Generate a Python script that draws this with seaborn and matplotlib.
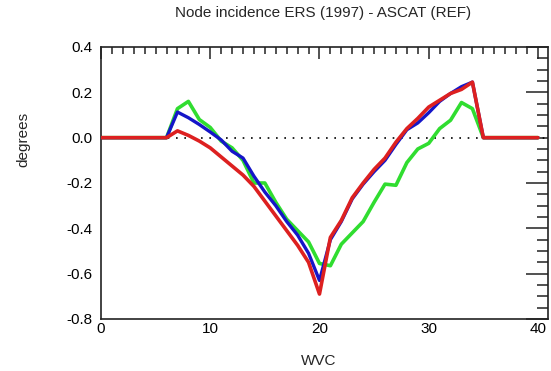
import numpy as np
import pandas as pd
import matplotlib
matplotlib.use("Agg")
import matplotlib.pyplot as plt
import seaborn as sns
from matplotlib.ticker import MultipleLocator, FixedLocator

wvc = list(range(0, 41))
green = [0, 0, 0, 0, 0, 0, 0,
         0.128, 0.16, 0.08, 0.045, -0.015, -0.045, -0.10, -0.20, -0.20,
         -0.285, -0.36, -0.41, -0.46, -0.555, -0.565, -0.47, -0.42, -0.37,
         -0.285, -0.205, -0.21, -0.11, -0.05, -0.025, 0.04, 0.077, 0.155, 0.128,
         0, 0, 0, 0, 0, 0]
blue = [0, 0, 0, 0, 0, 0, 0,
        0.113, 0.088, 0.058, 0.025, -0.01, -0.06, -0.09, -0.17, -0.24,
        -0.30, -0.37, -0.43, -0.51, -0.63, -0.45, -0.37, -0.27, -0.205,
        -0.15, -0.10, -0.03, 0.035, 0.065, 0.11, 0.16, 0.195, 0.225, 0.245,
        0, 0, 0, 0, 0, 0]
red = [0, 0, 0, 0, 0, 0, 0,
       0.03, 0.01, -0.015, -0.045, -0.085, -0.125, -0.165, -0.215, -0.28,
       -0.345, -0.41, -0.475, -0.55, -0.69, -0.44, -0.365, -0.265, -0.20,
       -0.14, -0.09, -0.02, 0.04, 0.085, 0.135, 0.165, 0.195, 0.213, 0.245,
       0, 0, 0, 0, 0, 0]

title = "Node incidence ERS (1997) - ASCAT (REF)"
xlabel = "WVC"
ylabel = "degrees"

sns.set_style("white")
plt.rcParams['font.family'] = ['Liberation Sans', 'DejaVu Sans']

W, H = 551, 371
fig = plt.figure(figsize=(W / 100, H / 100), dpi=100)
ax = fig.add_axes([101 / W, 1 - 319 / H, (548 - 101) / W, (319 - 47) / H])

df = pd.DataFrame({"wvc": wvc, "green": green, "blue": blue, "red": red})

ax.axhline(0, color="black", linestyle=(0, (1, 4)), linewidth=1.2, zorder=1)
sns.lineplot(data=df, x="wvc", y="green", color="#30dd30", linewidth=2.6, ax=ax, zorder=2)
sns.lineplot(data=df, x="wvc", y="blue", color="#1515c8", linewidth=2.4, ax=ax, zorder=3)
sns.lineplot(data=df, x="wvc", y="red", color="#dd2020", linewidth=2.6, ax=ax, zorder=4)

ax.set_xlim(0, 40.92)
ax.set_ylim(-0.8, 0.4)
ax.xaxis.set_major_locator(FixedLocator([0, 10, 20, 30, 40]))
ax.xaxis.set_minor_locator(FixedLocator(list(range(0, 41))))
ax.yaxis.set_major_locator(MultipleLocator(0.2))
ax.yaxis.set_minor_locator(MultipleLocator(0.05))
ax.set_yticklabels([f"{v:.1f}" for v in ax.get_yticks()])

for s in ax.spines.values():
    s.set_color("#222222")
    s.set_linewidth(1.2)

ax.tick_params(axis="both", which="both", direction="in", top=True, right=True,
               colors="#222222", width=1.1, labelcolor="black", labelsize=11)
ax.tick_params(axis="x", which="major", length=8.6, pad=2.5)
ax.tick_params(axis="x", which="minor", length=5)
ax.tick_params(axis="y", which="major", length=16, pad=6)
ax.tick_params(axis="y", which="minor", length=8)

ax.set_xlabel("")
ax.set_ylabel("")
fig.text(323.5 / W, 1 - 12.5 / H, title, ha="center", va="center", fontsize=11)
fig.text(318.5 / W, 1 - 361 / H, xlabel, ha="center", va="center", fontsize=11)
fig.text(23 / W, 1 - 139 / H, ylabel, ha="center", va="center", rotation=90, fontsize=11)

fig.savefig("out.png", dpi=100)
